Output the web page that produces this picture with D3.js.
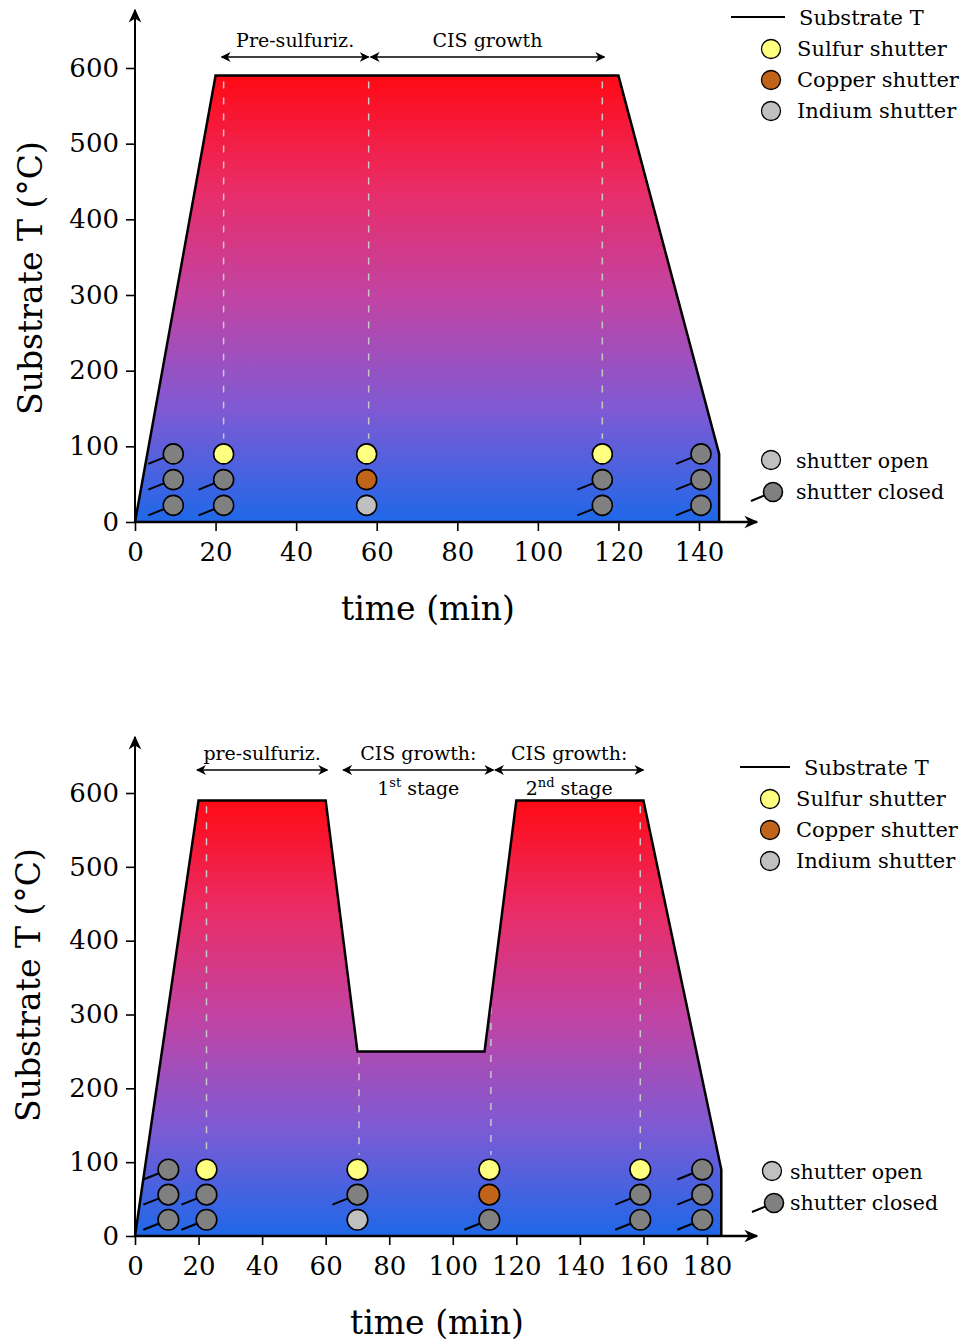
<!DOCTYPE html>
<html lang="en">
<head>
<meta charset="utf-8">
<title>Substrate temperature profiles</title>
<script src="https://d3js.org/d3.v7.min.js"></script>
<style>
  body { margin: 0; background: #fff; }
  text { font-family: "DejaVu Serif", serif; fill: #000; }
</style>
</head>
<body>
<script>
// ---------- data: panel 1 (single-stage CIS growth) ----------
var tempTime1  = [0, 20, 120, 145, 145];
var tempValue1 = [0, 590, 590, 90, 0];
var dashTime1  = [22, 58, 116];
var shutTime1  = [9.5, 22, 57.5, 116, 140.5];
var sulfur1    = [0, 1, 1, 1, 0];   // 1 = open
var copper1    = [0, 0, 1, 0, 0];
var indium1    = [0, 0, 1, 0, 0];
var phaseFrom1 = [21.5, 58.5];
var phaseTo1   = [58, 116.5];
var phaseText1 = [["Pre-sulfuriz."], ["CIS growth"]];
var xTicks1    = [0, 20, 40, 60, 80, 100, 120, 140];

// ---------- data: panel 2 (two-stage CIS growth) ----------
var tempTime2  = [0, 20, 60, 70, 110, 120, 160, 184.5, 184.5];
var tempValue2 = [0, 590, 590, 250, 250, 590, 590, 90, 0];
var dashTime2  = [22.5, 70.5, 112, 159];
var shutTime2  = [10.5, 22.5, 70, 111.5, 159, 178.5];
var sulfur2    = [0, 1, 1, 1, 1, 0];
var copper2    = [0, 0, 0, 1, 0, 0];
var indium2    = [0, 0, 1, 0, 0, 0];
var phaseFrom2 = [19.5, 65.5, 113.3];
var phaseTo2   = [60.5, 112.8, 160];
var phaseText2 = [["pre-sulfuriz."], ["CIS growth:", "1|st| stage"], ["CIS growth:", "2|nd| stage"]];
var xTicks2    = [0, 20, 40, 60, 80, 100, 120, 140, 160, 180];

// shared
var yTicks     = [0, 100, 200, 300, 400, 500, 600];
var rowTemp    = [90, 56, 22];            // sulfur, copper, indium row heights (°C)
var shutNames  = ["Sulfur shutter", "Copper shutter", "Indium shutter"];
var shutColors = ["#ffff80", "#c0641a", "#c0c0c0"];
var closedColor = "#808080";

var svg = d3.select("body").append("svg")
    .attr("width", 962).attr("height", 1342);

var defs = svg.append("defs");
defs.append("marker")
    .attr("id", "arrow")
    .attr("viewBox", "0 0 10 10")
    .attr("refX", 9).attr("refY", 5)
    .attr("markerWidth", 10).attr("markerHeight", 10)
    .attr("markerUnits", "userSpaceOnUse")
    .attr("orient", "auto-start-reverse")
  .append("path")
    .attr("d", "M0,0 L10,5 L0,10 L3,5 Z")
    .attr("fill", "#000");
defs.append("marker")
    .attr("id", "bigarrow")
    .attr("viewBox", "0 0 10 10")
    .attr("refX", 9).attr("refY", 5)
    .attr("markerWidth", 14).attr("markerHeight", 14)
    .attr("markerUnits", "userSpaceOnUse")
    .attr("orient", "auto-start-reverse")
  .append("path")
    .attr("d", "M0,0.5 L10,5 L0,9.5 L3,5 Z")
    .attr("fill", "#000");

function drawPanel(p) {
  var x = d3.scaleLinear().domain([0, p.xTicks[p.xTicks.length - 1]]).range([135, p.xEnd]);
  var y = d3.scaleLinear().domain([0, 600]).range([p.yZero, p.ySix]);
  var g = svg.append("g");

  // gradient in data space: red at the plateau, blue at 0
  var grad = defs.append("linearGradient")
      .attr("id", "grad" + p.id)
      .attr("gradientUnits", "userSpaceOnUse")
      .attr("x1", 0).attr("x2", 0)
      .attr("y1", y(590)).attr("y2", y(0));
  [[0, "#ff0a14"], [0.25, "#ea2c66"], [0.5, "#c044a4"], [0.75, "#7e5ad4"], [1, "#1e68e8"]]
    .forEach(function(s) { grad.append("stop").attr("offset", s[0]).attr("stop-color", s[1]); });

  var pts = p.time.map(function(t, i) { return [x(t), y(p.temp[i])]; });
  g.append("path")
    .attr("d", d3.line()(pts) + "Z")
    .attr("fill", "url(#grad" + p.id + ")");

  // dashed guide lines
  p.dash.forEach(function(t) {
    var top = d3.scaleLinear().domain(p.time).range(p.temp)(t);
    g.append("line")
      .attr("x1", x(t)).attr("x2", x(t))
      .attr("y1", y(top - 8)).attr("y2", y(110))
      .attr("stroke", "#c8c8c8").attr("stroke-width", 1.5)
      .attr("stroke-dasharray", "7,9");
  });

  g.append("path")
    .attr("d", d3.line()(pts))
    .attr("fill", "none").attr("stroke", "#000")
    .attr("stroke-width", 2.5).attr("stroke-linejoin", "miter");

  // axes
  var ya = g.append("g").attr("transform", "translate(135,0)")
    .call(d3.axisLeft(y).tickValues(yTicks).tickSize(9).tickPadding(7));
  var xa = g.append("g").attr("transform", "translate(0," + p.yZero + ")")
    .call(d3.axisBottom(x).tickValues(p.xTicks).tickSize(9).tickPadding(12));
  [ya, xa].forEach(function(a) {
    a.select(".domain").remove();
    a.selectAll(".tick line").attr("stroke", "#000").attr("stroke-width", 1.6);
    a.selectAll(".tick text").attr("font-size", 26).attr("fill", "#000")
      .attr("font-family", "DejaVu Serif");
  });
  g.append("line").attr("x1", 135).attr("x2", 135)
    .attr("y1", p.yZero).attr("y2", p.yTop)
    .attr("stroke", "#000").attr("stroke-width", 2).attr("marker-end", "url(#bigarrow)");
  g.append("line").attr("x1", 134).attr("x2", 757)
    .attr("y1", p.yZero).attr("y2", p.yZero)
    .attr("stroke", "#000").attr("stroke-width", 2.5).attr("marker-end", "url(#bigarrow)");

  g.append("text")
    .attr("transform", "translate(" + p.yLab[0] + "," + p.yLab[1] + ") rotate(-90)")
    .attr("text-anchor", "middle").attr("dy", "0.35em")
    .attr("font-size", 33).text("Substrate T (°C)");
  g.append("text")
    .attr("x", p.xLab[0]).attr("y", p.xLab[1])
    .attr("text-anchor", "middle").attr("dy", "0.35em")
    .attr("font-size", 33).text("time (min)");

  // phase arrows
  p.phaseFrom.forEach(function(t0, i) {
    var t1 = p.phaseTo[i];
    g.append("line")
      .attr("x1", x(t0)).attr("x2", x(t1))
      .attr("y1", p.arrowY).attr("y2", p.arrowY)
      .attr("stroke", "#000").attr("stroke-width", 1.6)
      .attr("marker-start", "url(#arrow)").attr("marker-end", "url(#arrow)");
    p.phaseText[i].forEach(function(line, j) {
      var tx = g.append("text")
        .attr("x", (x(t0) + x(t1)) / 2)
        .attr("y", j === 0 ? p.arrowY - 10 : p.arrowY + 25)
        .attr("text-anchor", "middle").attr("font-size", 19);
      line.split("|").forEach(function(part, k) {
        var ts = tx.append("tspan").text(part);
        if (k === 1) ts.attr("font-size", 13).attr("dy", -8);
        if (k === 2) ts.attr("dy", 8);
      });
    });
  });

  // shutter states
  var states = [p.sulfur, p.copper, p.indium];
  p.shut.forEach(function(t, i) {
    states.forEach(function(st, r) {
      var cx = x(t), cy = y(rowTemp[r]);
      if (!st[i]) {
        g.append("line")
          .attr("x1", cx - 25).attr("y1", cy + 10).attr("x2", cx).attr("y2", cy)
          .attr("stroke", "#000").attr("stroke-width", 2);
      }
      g.append("circle")
        .attr("cx", cx).attr("cy", cy).attr("r", p.r)
        .attr("fill", st[i] ? shutColors[r] : closedColor)
        .attr("stroke", "#000").attr("stroke-width", 1.6);
    });
  });

  // legend
  var L = p.legend;
  g.append("line").attr("x1", L.lineX[0]).attr("x2", L.lineX[1])
    .attr("y1", L.top).attr("y2", L.top)
    .attr("stroke", "#000").attr("stroke-width", 2);
  g.append("text").attr("x", L.lineX[1] + 14).attr("y", L.top + 1).attr("dy", "0.35em")
    .attr("font-size", 21).text("Substrate T");
  shutNames.forEach(function(name, r) {
    var cy = L.top + 32 + r * 31;
    g.append("circle").attr("cx", L.cx).attr("cy", cy).attr("r", 9.5)
      .attr("fill", shutColors[r]).attr("stroke", "#000").attr("stroke-width", 1.3);
    g.append("text").attr("x", L.cx + 26).attr("y", cy).attr("dy", "0.35em")
      .attr("font-size", 21).text(name);
  });
  var so = L.open;
  g.append("circle").attr("cx", so[0]).attr("cy", so[1]).attr("r", 9.5)
    .attr("fill", "#c0c0c0").attr("stroke", "#000").attr("stroke-width", 1.3);
  g.append("text").attr("x", so[2]).attr("y", so[1] + 1).attr("dy", "0.35em")
    .attr("font-size", 20.5).text("shutter open");
  var sc = [so[0] + 2, so[1] + 32];
  g.append("line").attr("x1", sc[0] - 22).attr("y1", sc[1] + 9).attr("x2", sc[0]).attr("y2", sc[1])
    .attr("stroke", "#000").attr("stroke-width", 2);
  g.append("circle").attr("cx", sc[0]).attr("cy", sc[1]).attr("r", 9.5)
    .attr("fill", closedColor).attr("stroke", "#000").attr("stroke-width", 1.6);
  g.append("text").attr("x", so[2]).attr("y", sc[1]).attr("dy", "0.35em")
    .attr("font-size", 20.5).text("shutter closed");
}

drawPanel({
  id: 1, time: tempTime1, temp: tempValue1, dash: dashTime1,
  shut: shutTime1, sulfur: sulfur1, copper: copper1, indium: indium1,
  phaseFrom: phaseFrom1, phaseTo: phaseTo1, phaseText: phaseText1,
  xTicks: xTicks1, xEnd: 699, yZero: 522, ySix: 68, yTop: 10, r: 10,
  arrowY: 57, yLab: [30, 278], xLab: [428, 608],
  legend: { lineX: [731, 785], top: 17, cx: 771, open: [771, 460, 796] }
});
drawPanel({
  id: 2, time: tempTime2, temp: tempValue2, dash: dashTime2,
  shut: shutTime2, sulfur: sulfur2, copper: copper2, indium: indium2,
  phaseFrom: phaseFrom2, phaseTo: phaseTo2, phaseText: phaseText2,
  xTicks: xTicks2, xEnd: 707, yZero: 1236, ySix: 793, yTop: 737, r: 10.3,
  arrowY: 770, yLab: [28, 985], xLab: [437, 1322],
  legend: { lineX: [740, 790], top: 767, cx: 770, open: [772, 1171, 790] }
});
</script>
</body>
</html>
